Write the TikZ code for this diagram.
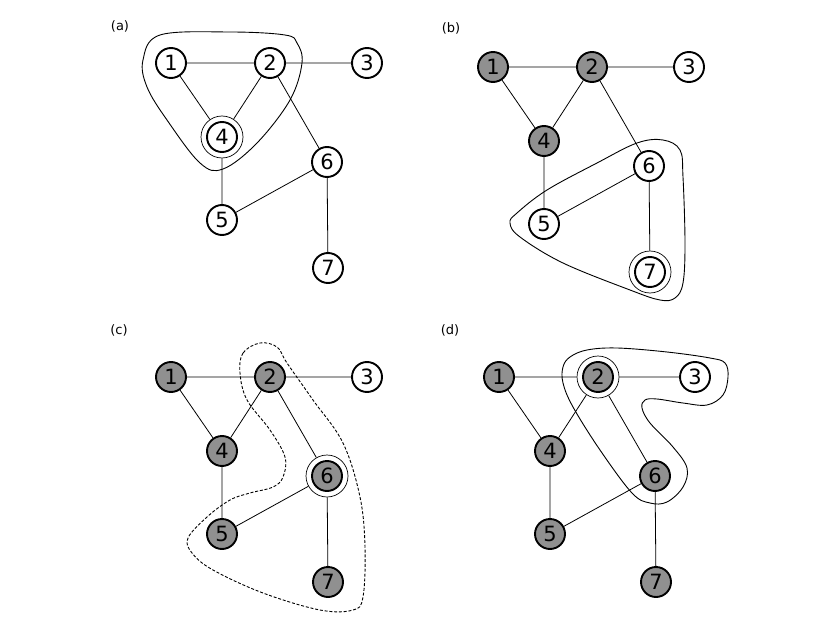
\documentclass[tikz,border=0pt]{standalone}
\usepackage{fontspec}
\setmainfont{DejaVu Sans}
\definecolor{nodegray}{RGB}{144,144,144}
\tikzset{
  vert/.style={circle,draw=black,line width=1.9pt,minimum size=30pt,inner sep=0pt,fill=white,font=\fontsize{21}{21}\selectfont},
  filled/.style={vert,fill=nodegray},
  ring/.style={circle,draw=black,line width=0.7pt,minimum size=42pt,inner sep=0pt},
  edge/.style={line width=0.8pt},
  hull/.style={line width=0.9pt},
  lab/.style={font=\fontsize{13}{13}\selectfont,inner sep=0pt},
}
\begin{document}
\begin{tikzpicture}[x=1pt,y=-1pt]
\useasboundingbox (0,0) rectangle (830,623);
% ---------- (a)
\node[lab] (la) at (120,26) {(a)};
\draw[hull] plot[smooth cycle,tension=0.6] coordinates {(143,60) (160,35) (230,32) (285,35) (297,43) (302,63) (290,100) (257,143) (223,169) (200,163) (167,120) (147,87)};
\begin{scope}[shift={(171,63)}]
\node[vert] (a1) at (0,0) {1};
\node[vert] (a2) at (99,0) {2};
\node[vert] (a3) at (196,0) {3};
\node[ring] (a4) at (51,74) {};
\node[vert] (a4i) at (a4) {4};
\node[vert] (a5) at (51,157) {5};
\node[vert] (a6) at (156,99) {6};
\node[vert] (a7) at (157,205) {7};
\end{scope}
\draw[edge] (a1)--(a2) (a2)--(a3) (a1)--(a4) (a2)--(a4) (a2)--(a6) (a4)--(a5) (a5)--(a6) (a6)--(a7);
% ---------- (b)
\node[lab] (lb) at (451,28) {(b)};
\draw[hull] plot[smooth cycle,tension=0.6] coordinates {(663,140) (680,150) (683,177) (685,243) (683,283) (675,298) (660,300) (630,290) (563,263) (520,237) (510,223) (517,213) (547,190) (597,163) (637,143)};
\begin{scope}[shift={(493,67)}]
\node[filled] (b1) at (0,0) {1};
\node[filled] (b2) at (99,0) {2};
\node[vert] (b3) at (196,0) {3};
\node[filled] (b4) at (51,74) {4};
\node[vert] (b5) at (51,157) {5};
\node[vert] (b6) at (156,99) {6};
\node[ring] (b7) at (157,205) {};
\node[vert] (b7i) at (b7) {7};
\end{scope}
\draw[edge] (b1)--(b2) (b2)--(b3) (b1)--(b4) (b2)--(b4) (b2)--(b6) (b4)--(b5) (b5)--(b6) (b6)--(b7);
% ---------- (c)
\node[lab] (lc) at (119,330) {(c)};
\draw[hull,dash pattern=on 3pt off 1.8pt] plot[smooth cycle,tension=0.6] coordinates {(260,343) (243,353) (240,373) (247,400) (270,430) (285,457) (283,477) (273,487) (250,493) (230,500) (207,517) (188,538) (192,553) (213,570) (263,593) (320,610) (353,610) (363,597) (365,547) (360,497) (343,443) (313,400) (287,363) (277,347)};
\begin{scope}[shift={(171,377)}]
\node[filled] (c1) at (0,0) {1};
\node[filled] (c2) at (99,0) {2};
\node[vert] (c3) at (196,0) {3};
\node[filled] (c4) at (51,74) {4};
\node[filled] (c5) at (51,157) {5};
\node[ring] (c6) at (156,99) {};
\node[filled] (c6i) at (c6) {6};
\node[filled] (c7) at (157,205) {7};
\end{scope}
\draw[edge] (c1)--(c2) (c2)--(c3) (c1)--(c4) (c2)--(c4) (c2)--(c6) (c4)--(c5) (c5)--(c6) (c6)--(c7);
% ---------- (d)
\node[lab] (ld) at (450,330) {(d)};
\draw[hull] plot[smooth cycle,tension=0.6] coordinates {(563,367) (570,357) (587,350) (617,348) (667,352) (710,358) (725,363) (728,377) (723,395) (707,405) (683,403) (657,399) (645,400) (642,408) (650,423) (673,447) (687,468) (683,487) (667,502) (650,503) (632,493) (600,450) (573,407) (563,383)};
\begin{scope}[shift={(499,377)}]
\node[filled] (d1) at (0,0) {1};
\node[ring] (d2) at (99,0) {};
\node[filled] (d2i) at (d2) {2};
\node[vert] (d3) at (196,0) {3};
\node[filled] (d4) at (51,74) {4};
\node[filled] (d5) at (51,157) {5};
\node[filled] (d6) at (156,99) {6};
\node[filled] (d7) at (157,205) {7};
\end{scope}
\draw[edge] (d1)--(d2) (d2)--(d3) (d1)--(d4) (d2)--(d4) (d2)--(d6) (d4)--(d5) (d5)--(d6) (d6)--(d7);
\end{tikzpicture}
\end{document}
